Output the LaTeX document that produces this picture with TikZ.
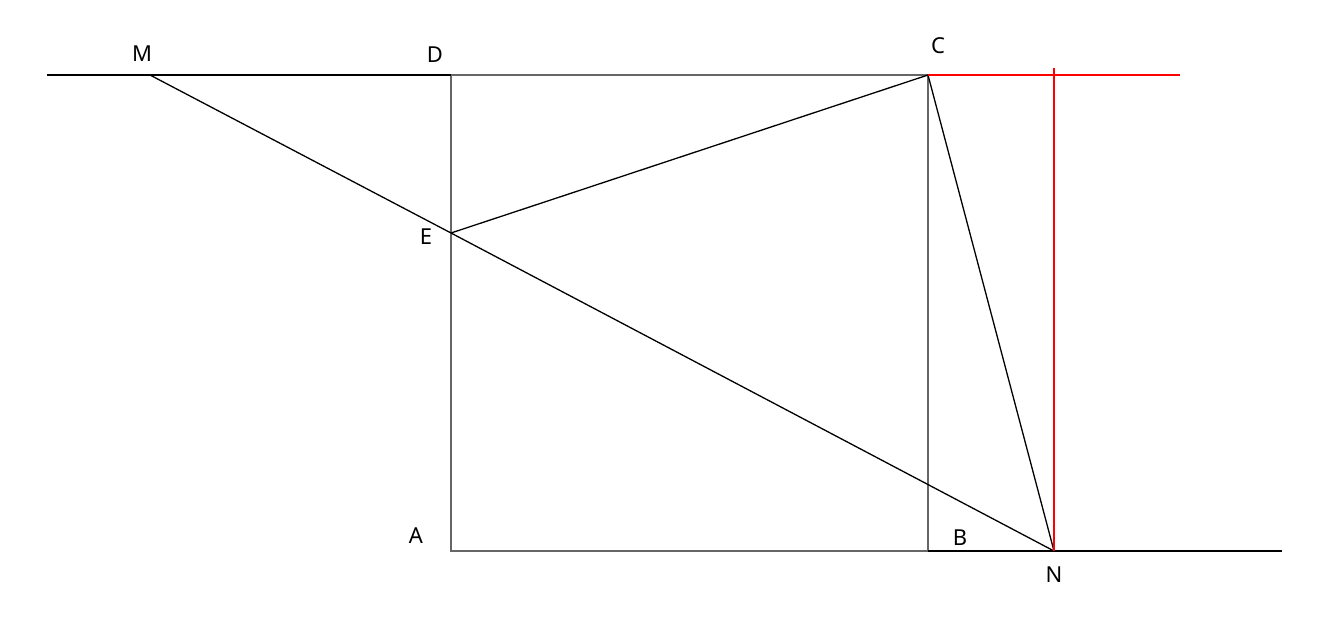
\documentclass[tikz,border=0pt]{standalone}
\usepackage{fontspec}
\setmainfont{Noto Sans}
\begin{document}
\begin{tikzpicture}[x=1pt,y=-1pt,
  lbl/.style={font=\fontsize{22}{26}\selectfont, inner sep=0pt},
  sq/.style={draw=black!60, line width=1.3pt},
  ln/.style={draw=black, line width=1.3pt},
  rd/.style={draw=red, line width=1.3pt}]
\useasboundingbox (0,0) rectangle (1334,621);
\coordinate (M) at (150,75);
\coordinate (D) at (451,75);
\coordinate (C) at (928,75);
\coordinate (E) at (451,233);
\coordinate (A) at (451,551);
\coordinate (B) at (928,551);
\coordinate (N) at (1054,551);
\coordinate (L) at (47,75);
\coordinate (R) at (1180,75);
\coordinate (Rb) at (1282,551);
\coordinate (Nt) at (1054,68);
% square
\draw[sq] (D) -- (A) -- (B) -- (C) -- cycle;
% lines
\draw[ln] (L) -- (D);
\draw[ln] (B) -- (Rb);
\draw[ln] (M) -- (E) -- (N);
\draw[ln] (E) -- (C) -- (N);
% red
\draw[rd] (C) -- (R);
\draw[rd] (Nt) -- (N);
% labels
\node[lbl] (lM) at (142,54) {M};
\node[lbl] (lD) at (435,55) {D};
\node[lbl] (lC) at (938,46) {C};
\node[lbl] (lE) at (426,237) {E};
\node[lbl] (lA) at (416,536) {A};
\node[lbl] (lB) at (960,538) {B};
\node[lbl] (lN) at (1054,575) {N};
\end{tikzpicture}
\end{document}
